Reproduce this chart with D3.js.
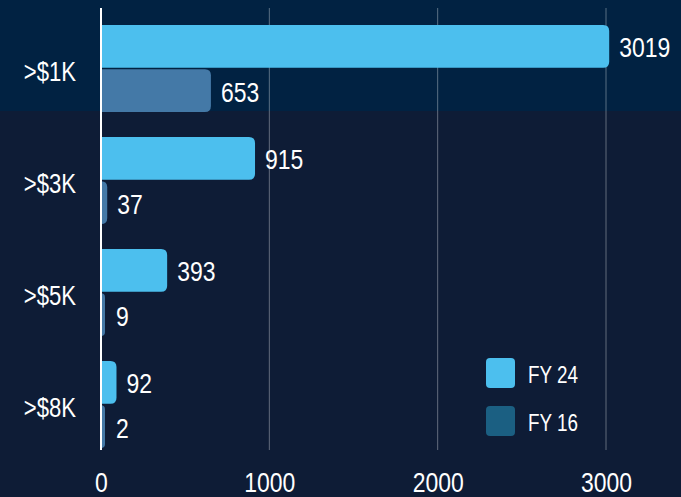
<!DOCTYPE html>
<html>
<head>
<meta charset="utf-8">
<script src="https://cdn.jsdelivr.net/npm/d3@7"></script>
<style>
  body { margin: 0; background: #0e1c36; }
  svg { display: block; }
  text { font-family: "Liberation Sans", Arial, sans-serif; fill: #fff; }
</style>
</head>
<body>
<div id="chart"></div>
<script>
var categories = [">$1K", ">$3K", ">$5K", ">$8K"];
var seriesNames = ["FY 24", "FY 16"];
var fy24 = [3019, 915, 393, 92];
var fy16 = [653, 37, 9, 2];
var ticks = [0, 1000, 2000, 3000];

var width = 681, height = 497;
var barColors = {"FY 24": "#4cbfee", "FY 16": "#4479a7"};
var legendColors = {"FY 24": "#4cbfee", "FY 16": "#1b5f82"};
var narrow = 0.82; // squeeze text horizontally, the original uses a condensed face

var svg = d3.select("#chart").append("svg")
    .attr("width", width)
    .attr("height", height);

// background, top row highlighted
svg.append("rect")
    .attr("width", width).attr("height", height)
    .attr("fill", "#0e1c36");
svg.append("rect")
    .attr("width", width).attr("height", 111)
    .attr("fill", "#012242");

var x = d3.scaleLinear().domain([0, 3000]).range([101, 606]);

var y = d3.scaleBand()
    .domain(categories)
    .range([25, 448])
    .paddingInner(0.223)
    .paddingOuter(0);

var ySub = d3.scaleBand()
    .domain(seriesNames)
    .range([0, y.bandwidth()])
    .paddingInner(0.035);

// place a squeezed text with its anchor at (px, py)
function placeText(sel, px, py) {
    sel.attr("transform", function(d, i) {
        return "translate(" + px(d, i) + "," + py(d, i) + ") scale(" + narrow + ",1)";
    });
}

// gridlines
svg.append("g")
    .selectAll("line")
    .data(ticks.slice(1))
    .join("line")
    .attr("x1", function(d) { return x(d); })
    .attr("x2", function(d) { return x(d); })
    .attr("y1", 8)
    .attr("y2", 450)
    .attr("stroke", "#ffffff")
    .attr("stroke-opacity", 0.35)
    .attr("stroke-width", 1);

var rows = categories.map(function(c, i) {
    return {cat: c, values: [
        {name: "FY 24", value: fy24[i]},
        {name: "FY 16", value: fy16[i]}
    ]};
});

// bar with flat left edge and rounded right corners
function barPath(x0, y0, w, h, r) {
    r = Math.min(r, w, h / 2);
    return "M" + x0 + "," + y0 +
        "H" + (x0 + w - r) +
        "Q" + (x0 + w) + "," + y0 + " " + (x0 + w) + "," + (y0 + r) +
        "V" + (y0 + h - r) +
        "Q" + (x0 + w) + "," + (y0 + h) + " " + (x0 + w - r) + "," + (y0 + h) +
        "H" + x0 + "Z";
}

var groups = svg.append("g")
    .selectAll("g")
    .data(rows)
    .join("g")
    .attr("transform", function(d) { return "translate(0," + y(d.cat) + ")"; });

groups.selectAll("path")
    .data(function(d) { return d.values; })
    .join("path")
    .attr("d", function(d) {
        var w = Math.max(x(d.value) - x(0), 4);
        return barPath(x(0), ySub(d.name), w, ySub.bandwidth(), 6);
    })
    .attr("fill", function(d) { return barColors[d.name]; });

groups.selectAll("text.val")
    .data(function(d) { return d.values; })
    .join("text")
    .attr("class", "val")
    .attr("dy", "0.36em")
    .attr("font-size", 28)
    .text(function(d) { return d.value; })
    .call(placeText,
        function(d) { return Math.max(x(d.value), x(0) + 5) + 10; },
        function(d) { return ySub(d.name) + ySub.bandwidth() / 2 + 1; });

// zero axis line
svg.append("line")
    .attr("x1", x(0)).attr("x2", x(0))
    .attr("y1", 8).attr("y2", 450)
    .attr("stroke", "#ffffff")
    .attr("stroke-width", 2);

// category labels
svg.append("g")
    .selectAll("text")
    .data(categories)
    .join("text")
    .attr("dy", "0.36em")
    .attr("text-anchor", "end")
    .attr("font-size", 27)
    .text(function(d) { return d; })
    .call(placeText,
        function() { return 76; },
        function(d) { return y(d) + y.bandwidth() / 2 + 3; });

// x axis tick labels
var xAxis = d3.axisBottom(x).tickValues(ticks).tickFormat(d3.format("d")).tickSize(0).tickPadding(0);
var axisG = svg.append("g")
    .attr("transform", "translate(0,473)")
    .call(xAxis);
axisG.select(".domain").remove();
axisG.selectAll("text")
    .attr("font-size", 28)
    .attr("fill", "#fff")
    .attr("y", 0)
    .attr("dy", "0.68em")
    .attr("transform", "scale(" + narrow + ",1)")
    .style("font-family", "'Liberation Sans', Arial, sans-serif");

// legend
var legend = svg.append("g")
    .selectAll("g")
    .data(seriesNames)
    .join("g")
    .attr("transform", function(d, i) { return "translate(486," + (358 + i * 48) + ")"; });

legend.append("rect")
    .attr("width", 29).attr("height", 30)
    .attr("rx", 4)
    .attr("fill", function(d) { return legendColors[d]; });

legend.append("text")
    .attr("dy", "0.36em")
    .attr("font-size", 23)
    .text(function(d) { return d; })
    .call(placeText, function() { return 42; }, function() { return 17; });
</script>
</body>
</html>
